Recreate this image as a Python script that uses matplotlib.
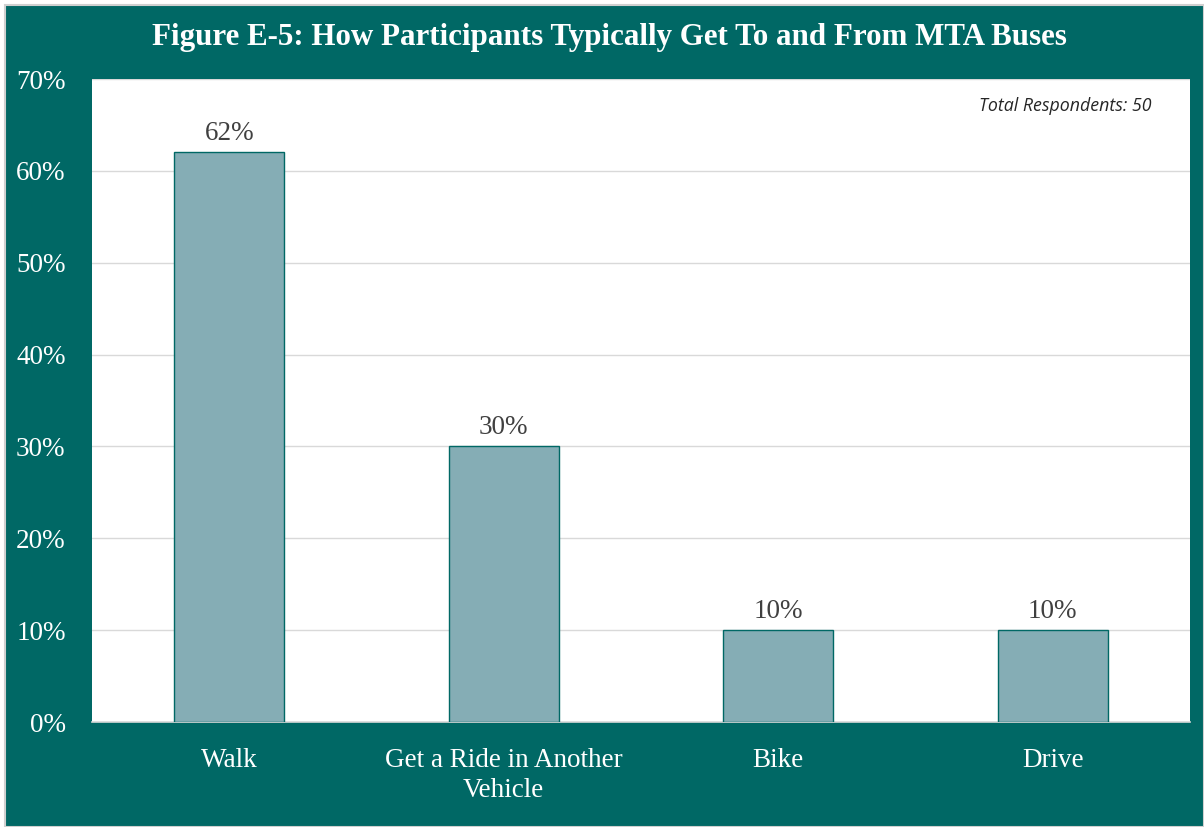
import matplotlib.pyplot as plt
from matplotlib.patches import Rectangle

categories = ['Walk', 'Get a Ride in Another\nVehicle', 'Bike', 'Drive']
shares = [62, 30, 10, 10]
y_ticks = [0, 10, 20, 30, 40, 50, 60, 70]

teal = '#006865'
bar_color = '#85ADB5'
serif = ['Liberation Serif', 'DejaVu Serif']

W, H = 1204, 827
fig = plt.figure(figsize=(W / 100, H / 100), dpi=100, facecolor='white')

# teal frame with thin gray edge, kept behind the axes
fig.patches.append(Rectangle((5 / W, 0), 1 - 5 / W, 1 - 5 / H, transform=fig.transFigure,
                             facecolor=teal, edgecolor='#D0D0D0', linewidth=1.5, zorder=-10))

ax = fig.add_axes([92 / W, 1 - 722 / H, (1190 - 92) / W, (722 - 79) / H])
ax.set_facecolor('white')

x = range(len(categories))
ax.bar(x, shares, width=0.4, color=bar_color, edgecolor=teal, linewidth=1, zorder=3)

for xi, v in zip(x, shares):
    ax.text(xi, v + 0.7, f'{v}%', ha='center', va='bottom', fontsize=19.5,
            family=serif, color='#404040')

ax.set_xlim(-0.5, len(categories) - 0.5)
ax.set_ylim(0, 70)
ax.set_yticks(y_ticks)
ax.set_yticklabels([f'{t}%' for t in y_ticks], family=serif, fontsize=19.5, color='white')
ax.set_xticks(list(x))
ax.set_xticklabels(categories, family=serif, fontsize=19.5, color='white', linespacing=1.25)
ax.tick_params(length=0)
ax.tick_params(axis='y', pad=19)
ax.tick_params(axis='x', pad=19)

ax.grid(axis='y', color='#D9D9D9', linewidth=1, zorder=0)
for side in ['top', 'right', 'left']:
    ax.spines[side].set_visible(False)
ax.spines['bottom'].set_color('#D9D9D9')
ax.spines['bottom'].set_linewidth(1.2)

ax.text(0.965, 0.972, 'Total Respondents: 50', transform=ax.transAxes, ha='right', va='top',
        fontsize=12.8, style='italic', family=['Open Sans', 'DejaVu Sans'], color='#262626')

fig.text(609 / W, 1 - 38 / H, 'Figure E-5: How Participants Typically Get To and From MTA Buses',
         ha='center', va='center', fontsize=22.3, fontweight='bold', family=serif, color='white')

fig.savefig('out.png', dpi=100, facecolor=fig.get_facecolor())
